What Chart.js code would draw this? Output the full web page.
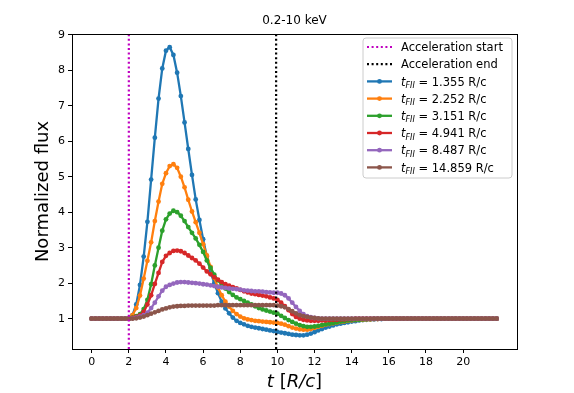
<!DOCTYPE html>
<html>
<head>
<meta charset="utf-8">
<script src="https://cdn.jsdelivr.net/npm/chart.js@4.4.0/dist/chart.umd.min.js"></script>
<style>
  html, body { margin: 0; padding: 0; background: #fff; }
</style>
</head>
<body>
<canvas id="myChart" width="574" height="393"></canvas>
<script>
// Data

const times = [
  0, 0.2, 0.4, 0.6, 0.8, 1, 1.2, 1.4, 1.6, 1.8,
  2, 2.2, 2.4, 2.6, 2.8, 3, 3.2, 3.4, 3.6, 3.8,
  4, 4.2, 4.4, 4.6, 4.8, 5, 5.2, 5.4, 5.6, 5.8,
  6, 6.2, 6.4, 6.6, 6.8, 7, 7.2, 7.4, 7.6, 7.8,
  8, 8.2, 8.4, 8.6, 8.8, 9, 9.2, 9.4, 9.6, 9.8,
  10, 10.2, 10.4, 10.6, 10.8, 11, 11.2, 11.4, 11.6, 11.8,
  12, 12.2, 12.4, 12.6, 12.8, 13, 13.2, 13.4, 13.6, 13.8,
  14, 14.2, 14.4, 14.6, 14.8, 15, 15.2, 15.4, 15.6, 15.8,
  16, 16.2, 16.4, 16.6, 16.8, 17, 17.2, 17.4, 17.6, 17.8,
  18, 18.2, 18.4, 18.6, 18.8, 19, 19.2, 19.4, 19.6, 19.8,
  20, 20.2, 20.4, 20.6, 20.8, 21, 21.2, 21.4, 21.6, 21.8,
];

const flux1 = [
  1, 1, 1, 1, 1, 1, 1, 1, 1, 1,
  1, 1.1, 1.4, 1.95, 2.75, 3.73, 4.92, 6.1, 7.2, 8.05,
  8.55, 8.65, 8.43, 7.93, 7.27, 6.53, 5.78, 5.05, 4.36, 3.78,
  3.24, 2.75, 2.32, 2.0, 1.72, 1.48, 1.29, 1.15, 1.03, 0.94,
  0.88, 0.84, 0.8, 0.77, 0.75, 0.73, 0.71, 0.69, 0.67, 0.65,
  0.63, 0.61, 0.59, 0.57, 0.55, 0.54, 0.53, 0.53, 0.55, 0.58,
  0.62, 0.67, 0.71, 0.75, 0.78, 0.81, 0.84, 0.86, 0.88, 0.9,
  0.92, 0.93, 0.95, 0.96, 0.97, 0.98, 0.98, 0.99, 0.99, 1,
  1, 1, 1, 1, 1, 1, 1, 1, 1, 1,
  1, 1, 1, 1, 1, 1, 1, 1, 1, 1,
  1, 1, 1, 1, 1, 1, 1, 1, 1, 1,
];

const flux2 = [
  1, 1, 1, 1, 1, 1, 1, 1, 1, 1,
  1, 1.1, 1.3, 1.65, 2.13, 2.63, 3.15, 3.75, 4.3, 4.8,
  5.1, 5.3, 5.35, 5.25, 5.0, 4.7, 4.35, 4.02, 3.72, 3.42,
  3.1, 2.78, 2.46, 2.15, 1.88, 1.66, 1.48, 1.34, 1.22, 1.13,
  1.06, 1.01, 0.98, 0.96, 0.94, 0.93, 0.92, 0.91, 0.9, 0.89,
  0.88, 0.86, 0.83, 0.79, 0.75, 0.72, 0.7, 0.69, 0.69, 0.71,
  0.74, 0.77, 0.8, 0.83, 0.85, 0.87, 0.89, 0.91, 0.92, 0.94,
  0.95, 0.96, 0.97, 0.97, 0.98, 0.98, 0.99, 0.99, 1, 1,
  1, 1, 1, 1, 1, 1, 1, 1, 1, 1,
  1, 1, 1, 1, 1, 1, 1, 1, 1, 1,
  1, 1, 1, 1, 1, 1, 1, 1, 1, 1,
];

const flux3 = [
  1, 1, 1, 1, 1, 1, 1, 1, 1, 1,
  1, 1.03, 1.07, 1.13, 1.27, 1.53, 1.97, 2.5, 3.0, 3.48,
  3.8, 3.96, 4.04, 4.0, 3.9, 3.75, 3.58, 3.42, 3.26, 3.08,
  2.88, 2.64, 2.43, 2.24, 2.08, 1.96, 1.85, 1.75, 1.67, 1.6,
  1.55, 1.5, 1.45, 1.4, 1.35, 1.3, 1.26, 1.23, 1.2, 1.17,
  1.14, 1.08, 1.02, 0.96, 0.91, 0.86, 0.82, 0.79, 0.77, 0.77,
  0.78, 0.8, 0.82, 0.84, 0.86, 0.88, 0.9, 0.92, 0.93, 0.95,
  0.96, 0.97, 0.97, 0.98, 0.99, 0.99, 1, 1, 1, 1,
  1, 1, 1, 1, 1, 1, 1, 1, 1, 1,
  1, 1, 1, 1, 1, 1, 1, 1, 1, 1,
  1, 1, 1, 1, 1, 1, 1, 1, 1, 1,
];

const flux4 = [
  1, 1, 1, 1, 1, 1, 1, 1, 1, 1,
  1, 1.02, 1.05, 1.09, 1.19, 1.4, 1.66, 1.98, 2.29, 2.6,
  2.77, 2.85, 2.91, 2.92, 2.9, 2.85, 2.78, 2.71, 2.64, 2.55,
  2.44, 2.33, 2.25, 2.17, 2.1, 2.03, 1.97, 1.93, 1.89, 1.85,
  1.81, 1.77, 1.74, 1.71, 1.69, 1.67, 1.65, 1.63, 1.6, 1.57,
  1.53, 1.45, 1.35, 1.24, 1.13, 1.05, 1.0, 0.97, 0.95, 0.94,
  0.94, 0.94, 0.95, 0.95, 0.96, 0.97, 0.97, 0.98, 0.98, 0.99,
  0.99, 1, 1, 1, 1, 1, 1, 1, 1, 1,
  1, 1, 1, 1, 1, 1, 1, 1, 1, 1,
  1, 1, 1, 1, 1, 1, 1, 1, 1, 1,
  1, 1, 1, 1, 1, 1, 1, 1, 1, 1,
];

const flux5 = [
  1, 1, 1, 1, 1, 1, 1, 1, 1, 1,
  1, 1.01, 1.03, 1.06, 1.1, 1.17, 1.3, 1.45, 1.63, 1.79,
  1.9, 1.95, 1.99, 2.02, 2.03, 2.03, 2.02, 2.01, 2.0, 1.99,
  1.97, 1.96, 1.94, 1.92, 1.9, 1.88, 1.87, 1.85, 1.84, 1.83,
  1.82, 1.8, 1.79, 1.78, 1.77, 1.77, 1.76, 1.75, 1.74, 1.73,
  1.73, 1.71, 1.66, 1.57, 1.45, 1.33, 1.22, 1.13, 1.07, 1.04,
  1.02, 1.01, 1, 1, 1, 1, 1, 1, 1, 1,
  1, 1, 1, 1, 1, 1, 1, 1, 1, 1,
  1, 1, 1, 1, 1, 1, 1, 1, 1, 1,
  1, 1, 1, 1, 1, 1, 1, 1, 1, 1,
  1, 1, 1, 1, 1, 1, 1, 1, 1, 1,
];

const flux6 = [
  1, 1, 1, 1, 1, 1, 1, 1, 1, 1,
  1, 1, 1.01, 1.03, 1.06, 1.1, 1.14, 1.18, 1.22, 1.26,
  1.29, 1.32, 1.34, 1.35, 1.36, 1.36, 1.37, 1.37, 1.37, 1.37,
  1.37, 1.37, 1.37, 1.37, 1.38, 1.38, 1.38, 1.38, 1.38, 1.38,
  1.38, 1.38, 1.38, 1.38, 1.38, 1.38, 1.38, 1.38, 1.38, 1.38,
  1.37, 1.35, 1.32, 1.27, 1.21, 1.15, 1.1, 1.07, 1.05, 1.03,
  1.02, 1.01, 1, 1, 1, 1, 1, 1, 1, 1,
  1, 1, 1, 1, 1, 1, 1, 1, 1, 1,
  1, 1, 1, 1, 1, 1, 1, 1, 1, 1,
  1, 1, 1, 1, 1, 1, 1, 1, 1, 1,
  1, 1, 1, 1, 1, 1, 1, 1, 1, 1,
];

const fiiTimes = ['1.355', '2.252', '3.151', '4.941', '8.487', '14.859'];
const seriesFlux = [flux1, flux2, flux3, flux4, flux5, flux6];
const seriesColors = ['#1f77b4', '#ff7f0e', '#2ca02c', '#d62728', '#9467bd', '#8c564b'];

const accelStart = 2;
const accelEnd = 9.93;

const xTicks = [0, 2, 4, 6, 8, 10, 12, 14, 16, 18, 20];
const yTicks = [1, 2, 3, 4, 5, 6, 7, 8, 9];

const xLimits = [-1.06, 22.9];
const yLimits = [0.146, 9.02];

// Settings

const font = '"DejaVu Sans", sans-serif';

function toPoints(values) {
  return times.map(function(t, i) {
    return { x: t, y: values[i] };
  });
}

function vline(x) {
  return [{ x: x, y: yLimits[0] }, { x: x, y: yLimits[1] }];
}

const datasets = [
  {
    label: 'Acceleration start',
    data: vline(accelStart),
    borderColor: '#bf00bf',
    borderWidth: 2.2,
    borderDash: [2, 2.6],
    pointRadius: 0,
    order: 0,
  },
  {
    label: 'Acceleration end',
    data: vline(accelEnd),
    borderColor: '#000000',
    borderWidth: 2.2,
    borderDash: [2, 2.6],
    pointRadius: 0,
    order: 0,
  },
];

seriesFlux.forEach(function(values, i) {
  datasets.push({
    label: 'tFII = ' + fiiTimes[i] + ' R/c',
    fii: fiiTimes[i],
    data: toPoints(values),
    borderColor: seriesColors[i],
    backgroundColor: seriesColors[i],
    pointBackgroundColor: seriesColors[i],
    borderWidth: 2.3,
    pointRadius: 2.4,
    pointBorderWidth: 0,
    pointHoverRadius: 0,
    tension: 0,
    order: seriesFlux.length - i,
  });
});

// Decorations: frame, title, axis labels, legend

function drawPieces(ctx, pieces, x, y) {
  let cx = x;
  pieces.forEach(function(p) {
    ctx.font = p.font;
    ctx.fillText(p.text, cx, y + (p.dy || 0));
    cx += ctx.measureText(p.text).width;
  });
}

function piecesWidth(ctx, pieces) {
  let w = 0;
  pieces.forEach(function(p) {
    ctx.font = p.font;
    w += ctx.measureText(p.text).width;
  });
  return w;
}

const decorations = {
  id: 'decorations',
  afterDraw: function(chart) {
    const ctx = chart.ctx;
    const area = chart.chartArea;
    ctx.save();

    // frame
    ctx.strokeStyle = '#000';
    ctx.lineWidth = 1;
    ctx.setLineDash([]);
    ctx.strokeRect(Math.round(area.left) + 0.5, Math.round(area.top) + 0.5,
      Math.round(area.right - area.left), Math.round(area.bottom - area.top));

    const midX = (area.left + area.right) / 2;
    ctx.fillStyle = '#000';
    ctx.textBaseline = 'alphabetic';

    // title
    ctx.font = '12px ' + font;
    ctx.textAlign = 'center';
    ctx.fillText('0.2-10 keV', midX, area.top - 10);

    // x label
    ctx.textAlign = 'left';
    const xl = [
      { text: 't', font: 'italic 18px ' + font },
      { text: ' [', font: '18px ' + font },
      { text: 'R/c', font: 'italic 18px ' + font },
      { text: ']', font: '18px ' + font },
    ];
    drawPieces(ctx, xl, midX - piecesWidth(ctx, xl) / 2, 386.5);

    // y label
    ctx.save();
    ctx.translate(48, (area.top + area.bottom) / 2);
    ctx.rotate(-Math.PI / 2);
    ctx.font = '18px ' + font;
    ctx.textAlign = 'center';
    ctx.fillText('Normalized flux', 0, 0);
    ctx.restore();

    // legend
    const lw = 149;
    const lx = area.right - 5 - lw;
    const ly = area.top + 4;
    ctx.beginPath();
    ctx.roundRect(lx, ly, lw, 140, 3);
    ctx.fillStyle = 'rgba(255,255,255,0.8)';
    ctx.fill();
    ctx.strokeStyle = '#cccccc';
    ctx.lineWidth = 1;
    ctx.stroke();

    chart.data.datasets.forEach(function(ds, i) {
      const cy = ly + 9 + i * 17.2;
      ctx.strokeStyle = ds.borderColor;
      ctx.lineWidth = ds.borderWidth;
      ctx.setLineDash(ds.borderDash || []);
      ctx.beginPath();
      ctx.moveTo(lx + 4, cy);
      ctx.lineTo(lx + 29, cy);
      ctx.stroke();
      ctx.setLineDash([]);
      if (ds.pointRadius) {
        ctx.fillStyle = ds.borderColor;
        ctx.beginPath();
        ctx.arc(lx + 16.5, cy, ds.pointRadius, 0, Math.PI * 2);
        ctx.fill();
      }
      ctx.fillStyle = '#000';
      const tx = lx + 38;
      const by = cy + 4.2;
      if (ds.fii) {
        drawPieces(ctx, [
          { text: 't', font: 'italic 11.5px ' + font },
          { text: 'FII', font: 'italic 8px ' + font, dy: 2.4 },
          { text: ' = ' + ds.fii + ' R/c', font: '11.5px ' + font },
        ], tx, by);
      } else {
        ctx.font = '11.5px ' + font;
        ctx.fillText(ds.label, tx, by);
      }
    });

    ctx.restore();
  }
};

// Chart

const axisTicks = {
  color: '#000',
  font: { family: font, size: 11 },
  padding: 3,
  maxRotation: 0,
  autoSkip: false,
};

const axisGrid = {
  drawOnChartArea: false,
  drawTicks: true,
  tickLength: 4,
  color: '#000',
  lineWidth: 1,
};

const ctx = document.getElementById('myChart').getContext('2d');

/* eslint-disable */
const chart = new Chart(ctx, {
  type: 'line',
  data: { datasets: datasets },
  plugins: [decorations],
  options: {
    responsive: false,
    animation: false,
    devicePixelRatio: 1,
    layout: { padding: { left: 0, right: 57, top: 34, bottom: 0 } },
    plugins: {
      legend: { display: false },
      tooltip: { enabled: false },
      title: { display: false },
    },
    scales: {
      x: {
        type: 'linear',
        min: xLimits[0],
        max: xLimits[1],
        afterBuildTicks: function(scale) {
          scale.ticks = xTicks.map(function(v) { return { value: v }; });
        },
        afterFit: function(scale) { scale.height = 44; },
        grid: axisGrid,
        border: { display: true, color: '#000', width: 1 },
        ticks: axisTicks,
      },
      y: {
        type: 'linear',
        min: yLimits[0],
        max: yLimits[1],
        afterBuildTicks: function(scale) {
          scale.ticks = yTicks.map(function(v) { return { value: v }; });
        },
        afterFit: function(scale) { scale.width = 72; },
        grid: axisGrid,
        border: { display: true, color: '#000', width: 1 },
        ticks: axisTicks,
      },
    },
  },
});
</script>
</body>
</html>
